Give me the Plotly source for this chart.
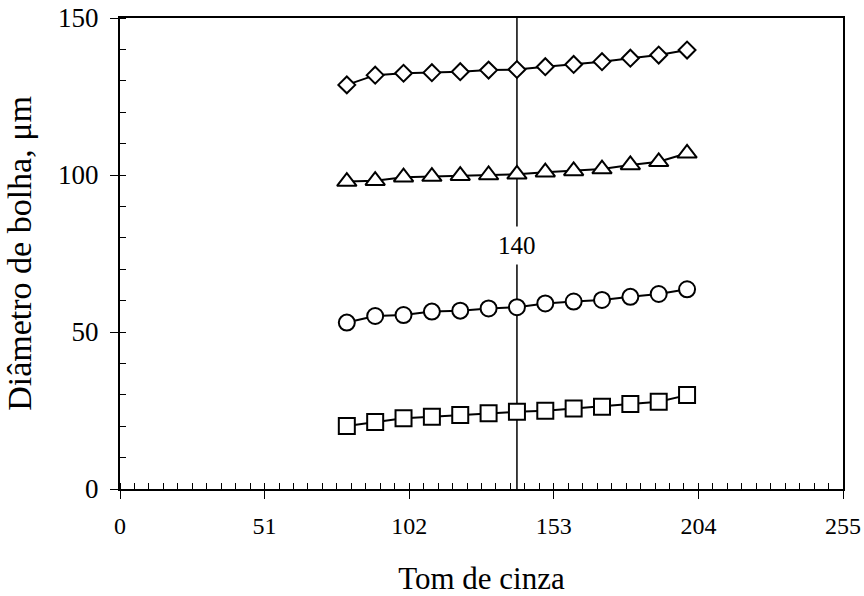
import plotly.graph_objects as go

tom_cinza = [80, 90, 100, 110, 120, 130, 140, 150, 160, 170, 180, 190, 200]
serie_losango = [128.7, 131.8, 132.4, 132.6, 132.9, 133.4, 133.6, 134.5, 135.2, 136.1, 137.2, 138.2, 139.8]
serie_triangulo = [97.9, 98.2, 99.3, 99.5, 99.8, 100.0, 100.2, 100.9, 101.3, 101.9, 103.2, 104.2, 106.9]
serie_circulo = [53.0, 55.1, 55.4, 56.5, 56.8, 57.5, 57.9, 59.1, 59.7, 60.2, 61.2, 62.1, 63.6]
serie_quadrado = [20.1, 21.3, 22.5, 23.0, 23.6, 24.1, 24.6, 24.9, 25.6, 26.2, 27.1, 27.8, 29.9]

x_ticks = [0, 51, 102, 153, 204, 255]
y_ticks = [0, 50, 100, 150]
limiar = 140

FONT = "Liberation Serif"

fig = go.Figure()

series = [
    (serie_losango, "diamond", 13),
    (serie_triangulo, "triangle-up", 17),
    (serie_circulo, "circle", 16),
    (serie_quadrado, "square", 16),
]
for ys, sym, sz in series:
    fig.add_trace(go.Scatter(
        x=tom_cinza, y=ys, mode="lines+markers",
        line=dict(color="black", width=2),
        marker=dict(symbol=sym, size=sz, color="white",
                    line=dict(color="black", width=2)),
        showlegend=False,
    ))

fig.add_shape(type="line", x0=limiar, x1=limiar, y0=0, y1=150,
              xref="x", yref="y", line=dict(color="black", width=1.5),
              layer="below")
fig.add_annotation(x=limiar, y=77.5, text=str(limiar), showarrow=False,
                   font=dict(family=FONT, size=25, color="black"),
                   bgcolor="white", borderpad=5)

fig.update_layout(
    width=864, height=596,
    margin=dict(l=120, r=21, t=18, b=107, autoexpand=False),
    paper_bgcolor="white", plot_bgcolor="white",
    font=dict(family=FONT, color="black"),
)
fig.update_xaxes(
    range=[0, 255], tickvals=x_ticks, ticktext=[str(v) for v in x_ticks],
    showgrid=False, zeroline=False, automargin=False,
    showline=True, linecolor="black", linewidth=2, mirror=True,
    ticks="outside", ticklen=8, tickwidth=1, tickcolor="black",
    tickfont=dict(family=FONT, size=24), ticklabelstandoff=6,
    ticklabeloverflow="allow",
    minor=dict(dtick=5.1, tick0=0, ticks="inside", ticklen=6, tickwidth=1,
               tickcolor="black", showgrid=False),
    title=dict(text="Tom de cinza", font=dict(family=FONT, size=31), standoff=34),
)
fig.update_yaxes(
    range=[0, 150], tickvals=y_ticks, ticktext=[str(v) for v in y_ticks],
    showgrid=False, zeroline=False, automargin=False,
    showline=True, linecolor="black", linewidth=2, mirror=True,
    ticks="outside", ticklen=8, tickwidth=1, tickcolor="black",
    tickfont=dict(family=FONT, size=27), ticklabelstandoff=6,
    ticklabeloverflow="allow",
    minor=dict(dtick=10, tick0=0, ticks="inside", ticklen=6, tickwidth=1,
               tickcolor="black", showgrid=False),
    title=dict(text="Diâmetro de bolha, μm", font=dict(family=FONT, size=34), standoff=16),
)

fig.write_html("out.html")
